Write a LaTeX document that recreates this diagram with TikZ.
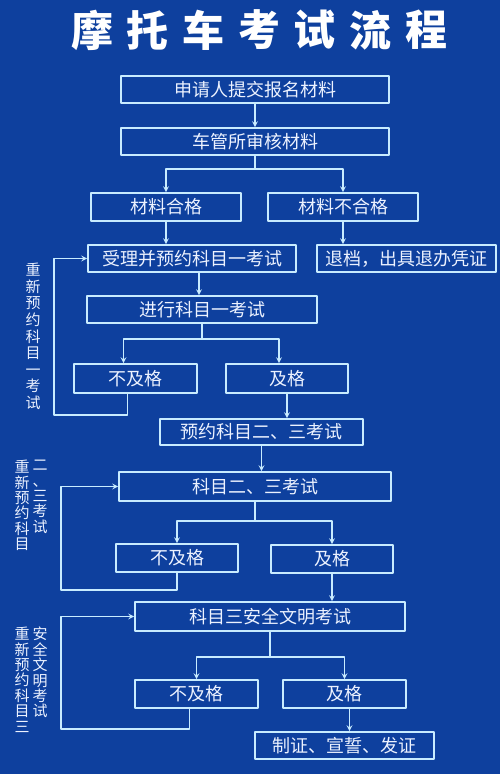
\documentclass[tikz,border=0pt]{standalone}
\usepackage{fontspec}
\newfontfamily\cjk{Noto Sans CJK SC}
\definecolor{bg}{RGB}{14,64,158}
\definecolor{edge}{RGB}{200,236,255}
\definecolor{txt}{RGB}{236,242,255}
\begin{document}
\begin{tikzpicture}[x=1pt,y=-1pt,>=stealth,line join=round,line cap=round,
        box/.style={draw=edge,line width=1.6pt,inner sep=0pt,minimum height=27pt,text=txt,font=\cjk\fontsize{18}{18}\selectfont},
        link/.style={draw=edge,line width=1.6pt,->},
        wire/.style={draw=edge,line width=1.6pt},
        side/.style={text=txt,align=center,inner sep=0pt,anchor=north,font=\cjk\fontsize{15}{15.4}\selectfont}]
                \fill[bg] (0,0) rectangle (500,774);
                \foreach \c [count=\i from 0] in {摩,托,车,考,试,流,程}
                    \node[text=white,font=\cjk\bfseries\fontsize{42}{42}\selectfont] (t\i) at (92+55.7*\i,30) {\c};
                \node[box,minimum width=268pt] (apply) at (255,89.5) {申请人提交报名材料};
                \node[box,minimum width=268pt] (review) at (255,141.5) {车管所审核材料};
                \node[box,minimum width=150pt,minimum height=28pt] (ok) at (166,207) {材料合格};
                \node[box,minimum width=150pt,minimum height=28pt] (notok) at (343,207) {材料不合格};
                \node[box,minimum width=208pt] (accept) at (192,258.5) {受理并预约科目一考试};
                \node[box,minimum width=179pt] (reject) at (406.5,258.5) {退档，出具退办凭证};
                \node[box,minimum width=230pt] (examA) at (202,309.5) {进行科目一考试};
                \node[box,minimum width=123pt,minimum height=29pt] (failA) at (135.5,378.5) {不及格};
                \node[box,minimum width=122pt,minimum height=29pt] (passA) at (287,378.5) {及格};
                \node[box,minimum width=203pt,minimum height=26pt] (bookB) at (261.5,432) {预约科目二、三考试};
                \node[box,minimum width=272pt,minimum height=29pt] (examB) at (255,486.5) {科目二、三考试};
                \node[box,minimum width=122pt,minimum height=28pt] (failB) at (177,558) {不及格};
                \node[box,minimum width=122pt,minimum height=28pt] (passB) at (332,559) {及格};
                \node[box,minimum width=270pt,minimum height=29pt] (examC) at (270,616.5) {科目三安全文明考试};
                \node[box,minimum width=123pt,minimum height=28pt] (failC) at (196.5,694) {不及格};
                \node[box,minimum width=123pt,minimum height=28pt] (passC) at (344.5,694) {及格};
                \node[box,minimum width=179pt] (issue) at (344.5,745.5) {制证、宣誓、发证};
                \node[side,font=\cjk\fontsize{15}{16.6}\selectfont] (redoA) at (33,263) {重\\新\\预\\约\\科\\目\\一\\考\\试};
                \node[side] (redoB1) at (22,460) {重\\新\\预\\约\\科\\目};
                \node[side] (redoB2) at (40,460) {二\\、\\三\\考\\试};
                \node[side] (redoC1) at (22,627) {重\\新\\预\\约\\科\\目\\三};
                \node[side] (redoC2) at (40,627) {安\\全\\文\\明\\考\\试};
                \coordinate (a1) at ([xshift=7pt]accept.south);
                \coordinate (c1) at ([xshift=5pt]passC.south);
                \draw[link] (apply.south)--(review.north);
                \draw[wire] (review.south)--++(0,13)coordinate(jr);
                \draw[link] (jr)-|(ok.north);
                \draw[link] (jr)-|(notok.north);
                \draw[link] (ok.south)--(ok.south|-accept.north);
                \draw[link] (notok.south)--(notok.south|-reject.north);
                \draw[link] (a1)--(a1|-examA.north);
                \draw[wire] (examA.south)--++(0,15)coordinate(ja);
                \draw[link] (ja)-|([xshift=-12pt]failA.north);
                \draw[link] (ja)-|([xshift=-8pt]passA.north);
                \draw[link] ([xshift=-8pt]failA.south)--++(0,21)-|([xshift=-33pt]accept.west)--(accept.west);
                \draw[link] (passA.south)--(passA.south|-bookB.north);
                \draw[link] (bookB.south)--(bookB.south|-examB.north);
                \draw[wire] (examB.south)--++(0,19)coordinate(jb);
                \draw[link] (jb)-|(failB.north);
                \draw[link] (jb)-|(passB.north);
                \draw[link] (failB.south)--++(0,17)-|([xshift=-57pt]examB.west)--(examB.west);
                \draw[link] (passB.south)--(passB.south|-examC.north);
                \draw[wire] (examC.south)--++(0,25)coordinate(jc);
                \draw[link] (jc)-|(failC.north);
                \draw[link] (jc)-|(passC.north);
                \draw[link] ([xshift=-7pt]failC.south)--++(0,20)-|([xshift=-73pt]examC.west)--(examC.west);
                \draw[link] (c1)--(c1|-issue.north);
        \end{tikzpicture}
\end{document}
